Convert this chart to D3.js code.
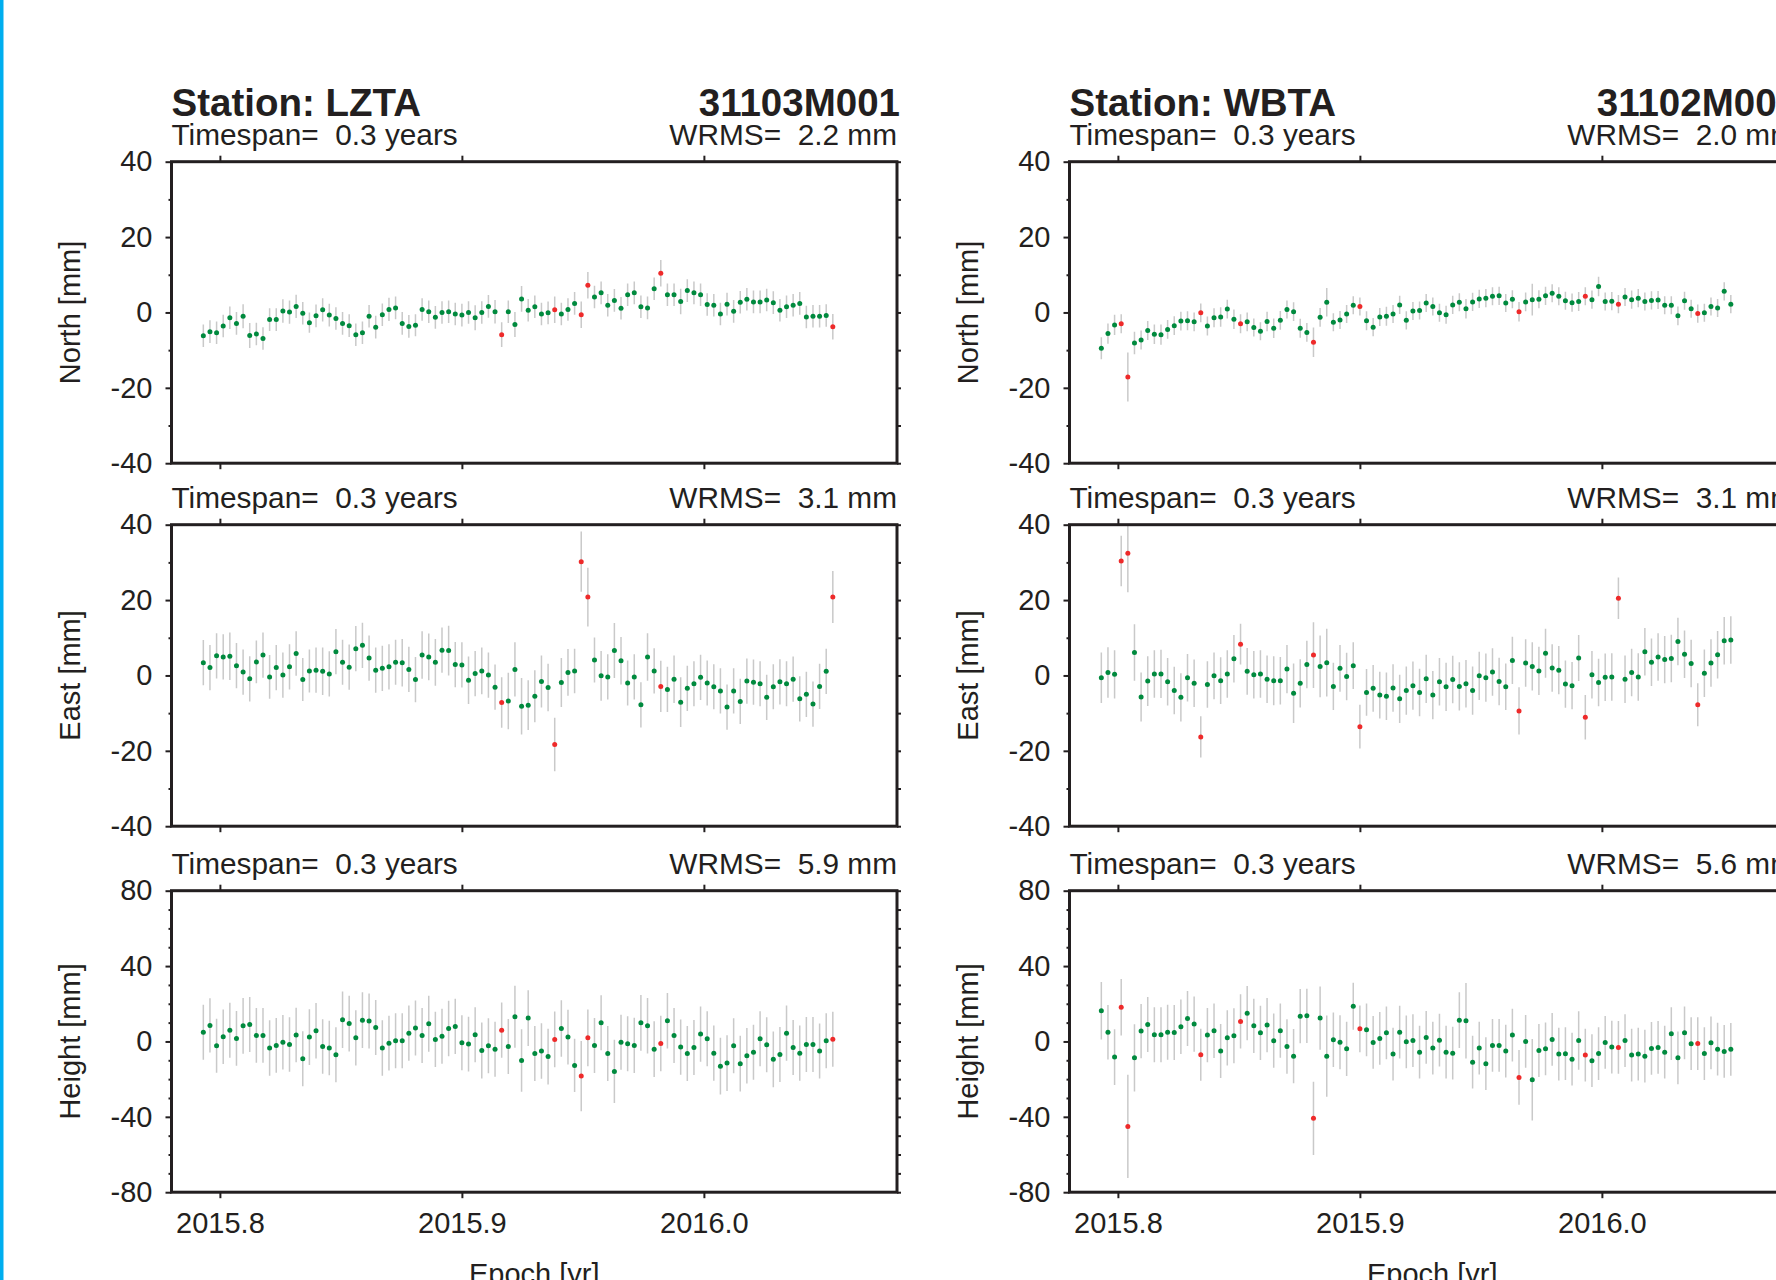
<!DOCTYPE html>
<html>
<head>
<meta charset="utf-8">
<script src="https://cdn.jsdelivr.net/npm/d3@7"></script>
<style>
body { margin: 0; background: #fff; }
svg { display: block; font-family: "Liberation Sans", Arial, Helvetica, sans-serif; }
</style>
</head>
<body>
<div class="chart"></div>
<script>
// daily solutions, day of year
const days2015 = [290,291,292,293,294,295,296,297,298,299,300,301,302,303,304,305,306,307,308,309,
  310,311,312,313,314,315,316,317,318,319,320,321,322,323,324,325,326,327,328,329,
  330,331,332,333,334,335,336,337,338,339,340,341,342,343,344,345,346,347,348,349,
  350,351,352,353,354,355,356,357,358,359,360,361,362,363,364,365];
const days2016 = [1,2,3,4,5,6,7,8,9,10,11,12,13,14,15,16,17,18,19,20];

const stations = ["LZTA", "WBTA"];
const domes = ["31103M001", "31102M001"];
const components = ["North", "East", "Height"];
const timespan = [0.3, 0.3];
const wrms = [[2.2, 3.1, 5.9], [2.0, 3.1, 5.6]];
const xTicks = [2015.8, 2015.9, 2016.0];
const yTicksNE = [-40, -20, 0, 20, 40];
const yTicksU = [-80, -40, 0, 40, 80];

// outlier epochs (index into the daily list), drawn red
const outliersLZTA = [45, 53, 57, 58, 69, 95];
const outliersWBTA = [3, 4, 15, 21, 32, 39, 63, 73, 78, 90];

// LZTA residuals [mm] and sigmas
const lztaN = [-6.2,-5.1,-5.4,-3.6,-1.4,-2.9,-1.0,-6.1,-5.7,-6.9,
  -1.9,-1.9,0.4,0.1,1.6,-0.2,-2.7,-0.9,0.7,-0.7,
  -1.6,-2.9,-3.5,-5.9,-5.4,-1.0,-3.9,-0.6,0.8,1.2,
  -2.9,-3.7,-3.4,0.8,0.2,-1.3,0.0,0.2,-0.4,-0.7,
  0.0,-1.4,0.0,1.6,0.2,-5.9,0.2,-3.2,3.6,0.6,
  1.5,-0.4,-0.1,0.7,-0.4,0.8,2.4,-0.6,7.2,4.1,
  5.2,1.9,3.2,1.1,4.7,5.2,1.5,1.2,6.3,10.4,
  4.7,4.7,2.9,5.8,5.2,4.7,2.1,1.9,-0.4,2.2,
  0.3,2.7,3.5,2.8,2.8,3.3,2.6,0.6,1.5,1.9,
  2.4,-1.2,-1.0,-1.0,-0.8,-3.8];
const lztaNs = [3.0,3.0,3.0,3.0,3.0,3.0,3.2,3.3,3.0,3.0,
  3.0,3.0,3.1,3.1,3.1,3.0,2.7,3.0,3.1,3.0,
  3.0,3.0,3.0,3.0,3.0,3.0,3.0,3.0,3.1,3.0,
  3.0,3.0,2.9,3.0,3.0,3.0,3.0,3.0,3.0,3.0,
  3.0,3.3,3.0,3.0,3.1,3.3,3.0,3.3,3.4,3.0,
  3.0,3.0,3.0,3.5,3.0,3.0,3.0,3.5,3.5,3.0,
  3.0,3.0,3.0,3.0,3.0,3.0,3.0,3.0,3.0,3.5,
  3.0,3.0,3.4,3.0,3.0,3.0,3.0,3.0,3.0,3.0,
  3.0,3.0,3.0,3.0,3.0,3.0,3.0,3.0,3.0,3.0,
  3.0,3.0,3.0,3.0,3.0,3.4];
const lztaE = [3.4,2.1,5.2,4.9,5.1,2.6,0.9,-0.9,3.6,5.4,
  -0.4,2.1,0.1,2.3,5.8,-1.1,1.2,1.4,1.1,0.4,
  6.3,3.5,2.2,7.1,8.0,4.6,1.4,1.9,2.3,3.5,
  3.4,1.6,-1.1,5.4,4.9,3.5,6.7,6.6,2.9,2.8,
  -1.3,0.5,1.2,0.1,-3.1,-7.2,-6.8,1.6,-8.2,-7.9,
  -5.5,-1.6,-3.2,-18.3,-1.9,0.8,1.2,30.2,20.8,4.1,
  -0.1,-0.4,6.6,3.9,-2.0,-0.4,-7.8,4.9,1.2,-2.9,
  -3.7,-1.0,-7.1,-3.4,-2.2,-0.5,-2.0,-3.0,-4.1,-8.4,
  -4.1,-6.9,-1.5,-1.8,-2.2,-5.8,-3.0,-1.7,-2.2,-1.0,
  -6.2,-5.0,-7.6,-2.9,1.1,20.8];
const lztaEs = [6.0,6.0,6.0,6.0,6.3,6.0,6.0,6.0,5.7,6.0,
  5.8,6.0,6.0,6.0,5.9,5.7,5.7,6.0,6.3,6.0,
  6.0,6.0,6.0,6.0,6.0,6.0,6.0,6.0,6.0,6.0,
  6.3,6.0,6.0,6.3,6.2,6.2,6.0,6.6,6.0,6.0,
  6.3,6.0,6.2,6.0,6.0,6.7,7.5,7.2,7.5,6.6,
  6.9,6.9,6.3,7.1,6.5,6.2,5.9,8.0,7.8,6.0,
  6.6,6.0,7.3,6.3,6.0,6.0,6.0,6.3,6.0,6.8,
  6.0,6.3,6.6,6.0,6.0,6.0,6.0,6.0,6.0,6.0,
  6.0,6.0,6.0,6.0,6.0,6.0,6.0,6.0,6.0,6.0,
  6.0,6.0,6.0,6.0,6.0,6.9];
const lztaU = [4.9,8.5,-2.3,2.5,6.0,1.6,8.3,9.0,3.2,3.2,
  -3.5,-2.1,-0.4,-1.6,3.4,-9.2,2.3,5.7,-2.7,-3.5,
  -7.1,11.5,9.5,1.9,11.3,10.8,7.4,-3.5,-0.9,0.4,
  0.4,4.4,7.1,3.2,9.4,1.1,2.7,6.9,8.0,-0.7,
  -1.4,3.5,-4.8,-2.3,-4.1,6.0,-2.7,13.1,-10.1,12.4,
  -6.4,-5.1,-8.0,1.1,6.9,2.3,-12.7,-18.4,1.9,-2.1,
  9.9,-6.4,-15.9,-0.4,-1.2,-2.1,9.9,8.3,-4.1,-1.1,
  11.0,3.2,-3.0,-6.4,-3.2,3.9,1.4,-6.2,-13.1,-11.5,
  -2.3,-11.8,-7.6,-5.7,1.4,-1.8,-9.5,-6.9,4.4,-3.2,
  -6.2,-1.6,-1.6,-5.1,0.4,1.2];
const lztaUs = [14.6,14.4,14.3,14.5,14.6,14.5,14.8,14.6,14.5,14.5,
  14.7,14.5,14.5,14.5,14.5,14.6,14.8,14.7,14.5,14.5,
  14.6,15.0,14.8,14.7,14.8,14.6,14.6,14.7,14.5,14.6,
  14.6,14.7,14.6,14.6,14.8,14.6,14.6,14.7,14.6,14.6,
  14.5,14.6,14.8,14.6,14.6,14.7,14.6,16.4,16.6,14.8,
  14.6,14.7,14.8,14.8,15.0,14.5,14.1,18.7,15.0,14.6,
  14.6,14.6,16.8,14.6,14.6,14.7,14.8,14.7,14.8,14.7,
  14.7,14.6,14.7,14.6,14.6,14.7,14.6,14.7,15.0,14.8,
  14.6,14.8,14.7,14.6,14.6,14.6,14.8,14.6,14.7,14.6,
  14.6,14.6,14.6,14.6,14.6,14.6];

// WBTA residuals [mm] and sigmas
const wbtaN = [-9.5,-5.6,-3.3,-3.0,-17.1,-8.1,-7.3,-4.8,-5.8,-5.9,
  -4.5,-3.5,-2.3,-2.2,-2.5,-0.1,-3.6,-1.4,-1.2,0.9,
  -1.8,-3.0,-2.5,-4.0,-5.0,-2.4,-4.2,-2.1,0.8,0.2,
  -4.2,-5.3,-7.9,-1.3,2.7,-2.6,-2.0,-0.4,1.9,1.6,
  -2.2,-3.9,-1.2,-1.0,-0.4,2.0,-2.1,0.4,0.5,2.5,
  1.6,-0.1,-0.6,2.0,2.7,1.0,2.8,3.6,3.8,4.3,
  4.4,2.5,3.5,0.2,2.8,3.4,3.5,4.4,5.1,4.3,
  3.1,2.6,2.9,4.3,3.4,6.9,2.9,3.0,2.2,4.1,
  3.4,3.8,2.9,3.2,3.3,1.9,1.9,-0.9,3.1,1.0,
  -0.3,-0.1,1.6,1.2,5.6,2.2];
const wbtaNs = [2.9,2.7,2.7,2.5,6.5,3.0,2.5,2.5,2.6,2.7,
  2.5,2.5,2.5,2.5,2.5,2.5,2.5,2.5,2.6,2.5,
  2.6,2.5,2.5,2.4,2.4,2.6,2.6,2.5,2.4,2.5,
  2.5,2.5,3.9,2.5,3.8,2.4,2.4,2.4,2.4,2.4,
  2.5,2.4,2.4,2.5,2.4,2.4,2.4,2.4,2.4,2.4,
  2.4,2.4,2.4,2.4,2.4,2.6,2.4,2.4,2.4,2.4,
  2.4,2.4,2.4,2.6,2.5,4.2,2.4,2.4,2.4,2.4,
  2.4,2.4,2.5,2.4,2.4,2.6,2.4,2.4,2.4,2.4,
  2.4,2.4,2.4,2.4,2.4,2.4,2.4,2.5,2.4,2.4,
  2.4,2.4,2.4,2.4,2.4,2.4];
const wbtaE = [-0.6,0.8,0.3,30.4,32.4,6.1,-5.7,-1.5,0.4,0.4,
  -1.7,-4.0,-5.8,-0.6,-2.1,-16.3,-2.4,-0.1,-1.4,0.4,
  4.4,8.3,1.1,0.2,0.4,-1.0,-1.4,-1.4,1.7,-4.7,
  -2.1,2.9,5.4,2.4,3.4,-2.9,1.9,-0.3,2.6,-13.6,
  -4.5,-3.4,-5.2,-5.5,-3.3,-6.2,-4.0,-2.7,-4.5,-0.9,
  -5.2,-1.7,-3.0,-1.1,-2.9,-2.2,-4.0,-0.1,-0.6,0.9,
  -1.6,-3.0,4.0,-9.4,3.3,2.4,1.2,5.9,2.0,1.4,
  -2.3,-2.7,4.6,-11.1,0.2,-1.9,-0.5,-0.4,20.5,-1.0,
  0.8,-0.4,6.3,3.5,4.9,4.2,4.5,9.0,5.6,3.2,
  -7.8,0.6,3.3,5.5,9.2,9.4];
const wbtaEs = [6.7,6.7,6.4,6.7,10.3,7.5,6.5,6.6,6.3,6.4,
  6.3,6.3,6.4,6.3,6.3,5.5,6.2,6.2,6.2,6.3,
  6.3,5.4,6.2,6.3,6.3,6.3,6.5,6.3,6.4,7.9,
  6.4,6.3,8.7,8.2,9.0,6.3,6.2,6.3,6.2,5.8,
  6.2,6.2,6.2,6.3,6.3,6.4,6.4,6.4,6.3,6.4,
  6.4,6.3,6.4,6.3,6.4,6.3,6.4,6.4,6.4,6.3,
  6.3,6.2,6.3,6.3,6.3,6.4,6.4,6.5,6.3,6.4,
  6.3,6.3,6.1,5.9,6.3,6.3,6.3,6.3,5.5,6.3,
  6.3,6.3,6.3,6.3,6.3,6.3,6.3,6.3,6.3,6.3,
  5.7,6.3,6.3,6.3,6.3,6.3];
const wbtaU = [16.3,4.9,-8.3,18.2,-45.1,-8.7,5.5,9.0,3.5,3.5,
  4.9,4.8,7.8,12.2,9.2,-7.1,3.4,5.7,-5.1,1.9,
  3.0,10.6,15.0,8.3,4.6,8.7,0.4,5.7,-2.7,-7.8,
  13.4,13.6,-40.8,12.4,-7.8,0.9,-0.4,-3.9,18.7,6.7,
  6.2,-0.5,1.6,4.6,-6.7,4.9,-0.2,0.5,-5.7,2.1,
  -3.5,0.7,-5.7,-6.2,11.3,11.0,-11.0,-3.5,-11.8,-2.1,
  -2.1,-5.1,3.4,-19.1,0.0,-20.3,-4.8,-3.9,1.1,-6.7,
  -6.5,-9.4,0.5,-7.2,-10.2,-6.4,-0.5,-3.0,-3.2,0.5,
  -7.2,-6.7,-7.8,-3.7,-3.2,-5.7,4.1,-8.7,4.6,-1.2,
  -1.1,-6.4,-0.7,-4.1,-5.3,-4.2];
const wbtaUs = [15.3,14.5,14.8,15.0,27.4,17.8,14.4,14.6,14.6,14.6,
  14.6,14.6,14.5,14.6,14.6,13.8,14.4,14.5,14.3,14.6,
  14.6,14.4,14.4,14.4,14.4,14.4,14.4,14.4,14.5,14.4,
  14.4,14.4,19.4,16.8,21.6,14.4,14.3,14.4,12.5,12.4,
  14.0,14.0,14.0,14.0,14.0,14.0,14.0,14.0,14.0,14.0,
  14.0,14.0,14.0,14.0,14.8,20.0,14.0,14.0,14.0,14.0,
  14.0,14.0,14.0,14.5,14.0,21.6,14.0,14.0,14.0,14.0,
  14.0,14.0,15.5,14.0,14.0,14.0,14.0,14.0,14.0,14.0,
  14.0,14.0,14.0,14.0,14.0,14.0,14.0,14.0,14.0,14.0,
  14.0,14.0,14.0,14.0,14.0,14.0];

const series = [[lztaN, lztaE, lztaU], [wbtaN, wbtaE, wbtaU]];
const sigmas = [[lztaNs, lztaEs, lztaUs], [wbtaNs, wbtaEs, wbtaUs]];
const outliers = [outliersLZTA, outliersWBTA];

// layout
const W = 1776, H = 1280;
const frameW = 725.5, frameH = 301.5;
const colX = [171.5, 1069.5];
const rowY = [161.7, 524.7, 890.7];
const ink = "#231f20";
const green = "#008a3e", red = "#ee2a2a", barColor = "#c9c9c9";

const append_rect = function(svg, x, y, width, height, fill, stroke, strokewidth) {
    var ret = svg.append("rect").
            attr("x", x).attr("y", y).attr("width", width).attr("height", height);
    if (fill       != "") ret=ret.attr("fill", fill);
    if (stroke     != "") ret=ret.attr("stroke", stroke);
    if (strokewidth!= "") ret=ret.attr("stroke-width", strokewidth);
    return ret;
};

const append_text = function(svg, x, y, size, weight, anchor, text) {
    return svg.append("text").
            attr("x", x).attr("y", y).attr("fill", ink).
            attr("font-size", size).attr("font-weight", weight).
            attr("text-anchor", anchor).style("white-space", "pre").text(text);
};

function decyear(yr, d) {
    return yr + (d - 0.5) / (yr % 4 == 0 ? 366 : 365);
}
const epochs = days2015.map(d => decyear(2015, d)).concat(days2016.map(d => decyear(2016, d)));

const svg = d3.select(".chart").append("svg")
    .attr("width", W).attr("height", H);
const defs = svg.append("defs");

append_rect(svg, 0, 0, W, H, "#fff", "", "");
append_rect(svg, 0, 0, 3.5, H, "#00aeef", "", "");

const x = d3.scaleLinear().domain([2015.7800, 2016.0798]).range([0, frameW]);

function style_axis(a) {
    a.select(".domain").remove();
    a.selectAll(".tick line").attr("stroke", ink).attr("stroke-width", 2);
    a.selectAll(".tick text").attr("fill", ink).attr("font-size", 29)
        .attr("font-family", "'Liberation Sans', Arial, Helvetica, sans-serif");
}

function draw_panel(s, c) {
    var g = svg.append("g").attr("transform", `translate(${colX[s]},${rowY[c]})`);
    var vals = series[s][c], sig = sigmas[s][c];
    var major = c < 2 ? yTicksNE : yTicksU;
    var lim = major[major.length - 1];
    var minor = d3.range(-lim, lim + 1, 10).filter(v => major.indexOf(v) < 0);
    var y = d3.scaleLinear().domain([-lim, lim]).range([frameH, 0]);

    var cid = `clip-${s}-${c}`;
    defs.append("clipPath").attr("id", cid)
        .append("rect").attr("width", frameW).attr("height", frameH);

    var plot = g.append("g").attr("clip-path", `url(#${cid})`);
    var idx = d3.range(vals.length);

    plot.selectAll("line.err").data(idx).join("line").attr("class", "err")
        .attr("x1", i => x(epochs[i])).attr("x2", i => x(epochs[i]))
        .attr("y1", i => y(vals[i] - sig[i])).attr("y2", i => y(vals[i] + sig[i]))
        .attr("stroke", barColor).attr("stroke-width", 1.5);

    plot.selectAll("circle").data(idx).join("circle")
        .attr("cx", i => x(epochs[i])).attr("cy", i => y(vals[i]))
        .attr("r", 2.5)
        .attr("fill", i => outliers[s].indexOf(i) >= 0 ? red : green);

    // ticks
    style_axis(g.append("g").call(d3.axisLeft(y).tickValues(major).tickSize(6).tickPadding(13)
        .tickFormat(d => String(d))));
    style_axis(g.append("g").call(d3.axisLeft(y).tickValues(minor).tickSize(3).tickFormat("")));
    style_axis(g.append("g").attr("transform", `translate(${frameW},0)`)
        .call(d3.axisRight(y).tickValues(major.concat(minor)).tickSize(4).tickFormat("")));
    style_axis(g.append("g").call(d3.axisTop(x).tickValues(xTicks).tickSize(6).tickFormat("")));
    var bottom = d3.axisBottom(x).tickValues(xTicks).tickSize(6).tickPadding(14);
    if (c == 2) bottom = bottom.tickFormat(d3.format(".1f"));
    else bottom = bottom.tickFormat("");
    style_axis(g.append("g").attr("transform", `translate(0,${frameH})`).call(bottom));

    append_rect(g, 0, 0, frameW, frameH, "none", ink, 3);

    // labels
    if (c == 0) {
        append_text(g, 0, -46.2, 38.5, "bold", "start", "Station: " + stations[s]);
        append_text(g, frameW + 3, -46.2, 38.5, "bold", "end", domes[s]);
    }
    append_text(g, 0, -16.5, 29.8, "normal", "start", "Timespan=  " + timespan[s].toFixed(1) + " years");
    append_text(g, frameW, -16.5, 29.8, "normal", "end", "WRMS=  " + wrms[s][c].toFixed(1) + " mm");

    append_text(g, 0, 0, 29, "normal", "middle", components[c] + " [mm]")
        .attr("transform", `translate(-91.5,${frameH / 2}) rotate(-90)`);

    if (c == 2) append_text(g, frameW / 2, 393, 29, "normal", "middle", "Epoch [yr]");
}

for (var s = 0; s < 2; s++)
    for (var c = 0; c < 3; c++)
        draw_panel(s, c);
</script>
</body>
</html>
